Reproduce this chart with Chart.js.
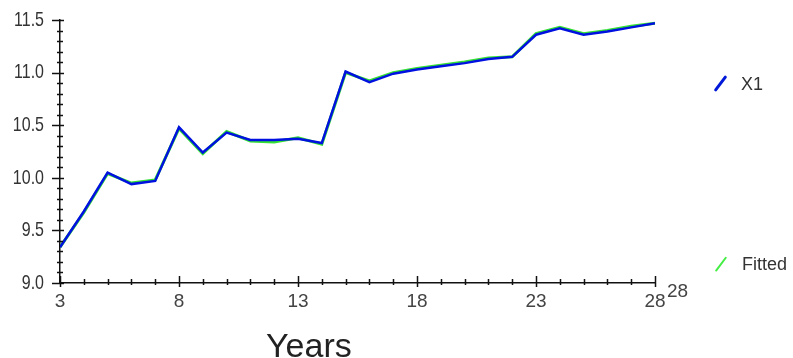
<!DOCTYPE html>
<html>
<head>
<meta charset="utf-8">
<script src="https://cdn.jsdelivr.net/npm/chart.js@4/dist/chart.umd.min.js"></script>
<style>
  html, body { margin: 0; padding: 0; background: #fff; }
  #wrap { position: relative; width: 793px; height: 358px; font-family: "Liberation Sans", Arial, sans-serif; color: #333; overflow: hidden; }
  canvas { position: absolute; left: 0; top: 0; }
  .txt { position: absolute; white-space: nowrap; line-height: 1; }
  .slash { position: absolute; border-radius: 2px; transform: rotate(37deg); }
</style>
</head>
<body>
<div id="wrap">
  <canvas id="c" width="793" height="358"></canvas>
  <div class="txt" style="left:266px; top:328px; font-size:34px; color:#222;">Years</div>
  <div class="slash" style="left:719px; top:74px; width:3px; height:19px; background:#0018d8;"></div>
  <div class="txt" style="left:741px; top:75px; font-size:18px; color:#333;">X1</div>
  <div class="slash" style="left:720px; top:255px; width:1.5px; height:18px; background:#44ee44;"></div>
  <div class="txt" style="left:742px; top:255px; font-size:18px; color:#333;">Fitted</div>
  <div class="txt" style="left:667px; top:281px; font-size:19px; color:#444;">28</div>
</div>
<script>
const years = [3,4,5,6,7,8,9,10,11,12,13,14,15,16,17,18,19,20,21,22,23,24,25,26,27,28];
const x1 =     [9.34,9.68,10.05,9.94,9.97,10.48,10.24,10.43,10.36,10.36,10.37,10.33,11.01,10.91,10.99,11.03,11.06,11.09,11.13,11.15,11.36,11.42,11.36,11.39,11.43,11.47];
const fitted = [9.34,9.67,10.04,9.95,9.98,10.47,10.23,10.44,10.35,10.34,10.38,10.32,11.00,10.92,11.00,11.04,11.07,11.10,11.14,11.15,11.37,11.43,11.37,11.40,11.44,11.47];
const xTickLabels = [3,8,13,18,23,28];
const yTickLabels = [9.0,9.5,10.0,10.5,11.0,11.5];

const toPts = arr => arr.map((v,i) => ({x: years[i], y: v}));

const tickPlugin = {
  id: 'crossTicks',
  afterDraw(chart) {
    const ctx = chart.ctx;
    const xs = chart.scales.x, ys = chart.scales.y;
    const axY = ys.getPixelForValue(9.0);
    const axX = xs.getPixelForValue(3);
    ctx.save();
    ctx.strokeStyle = '#111';
    ctx.lineWidth = 1.5;
    for (let t = 3; t <= 28; t++) {
      const px = Math.round(xs.getPixelForValue(t)) + 0.5;
      const major = xTickLabels.includes(t);
      ctx.beginPath();
      ctx.moveTo(px, axY - (major ? 7 : 4));
      ctx.lineTo(px, axY + (major ? 4 : 2));
      ctx.stroke();
    }
    for (let k = 0; k <= 25; k++) {
      const v = 9.0 + k * 0.1;
      const py = Math.round(ys.getPixelForValue(v)) + 0.5;
      const major = k % 5 === 0;
      ctx.beginPath();
      ctx.moveTo(axX - (major ? 8 : 3), py);
      ctx.lineTo(axX + (major ? 4 : 3), py);
      ctx.stroke();
    }
    ctx.fillStyle = '#444';
    ctx.font = '19px "Liberation Sans"';
    ctx.textAlign = 'center';
    ctx.textBaseline = 'middle';
    xTickLabels.forEach(v => {
      ctx.fillText(String(v), xs.getPixelForValue(v), axY + 19);
    });
    ctx.fillStyle = '#333';
    ctx.font = '16px "Liberation Sans"';
    ctx.textAlign = 'right';
    yTickLabels.forEach(v => {
      const py = ys.getPixelForValue(v);
      ctx.save();
      ctx.translate(44, py);
      ctx.scale(1, 1.3);
      ctx.fillText(v.toFixed(1), 0, 0);
      ctx.restore();
    });
    ctx.restore();
  }
};

new Chart(document.getElementById('c'), {
  type: 'line',
  data: {
    datasets: [
      { label: 'X1', data: toPts(x1), borderColor: '#0010e0', borderWidth: 2.5, pointRadius: 0, tension: 0, order: 1 },
      { label: 'Fitted', data: toPts(fitted), borderColor: '#33e033', borderWidth: 3, pointRadius: 0, tension: 0, order: 2 }
    ]
  },
  options: {
    responsive: false,
    animation: false,
    events: [],
    layout: { padding: { left: 0, right: 138, top: 20, bottom: 0 } },
    plugins: { legend: { display: false }, tooltip: { enabled: false } },
    scales: {
      x: {
        type: 'linear', min: 3, max: 28,
        afterFit(s) { s.height = 75; },
        grid: { drawOnChartArea: false, drawTicks: false },
        border: { display: true, color: '#111', width: 1.5 },
        ticks: { display: false },
        afterBuildTicks(s) { s.ticks = xTickLabels.map(v => ({ value: v })); }
      },
      y: {
        min: 9.0, max: 11.5,
        afterFit(s) { s.width = 60; },
        grid: { drawOnChartArea: false, drawTicks: false },
        border: { display: true, color: '#111', width: 1.5 },
        ticks: { display: false },
        afterBuildTicks(s) { s.ticks = yTickLabels.map(v => ({ value: v })); }
      }
    }
  },
  plugins: [tickPlugin]
});
</script>
</body>
</html>
